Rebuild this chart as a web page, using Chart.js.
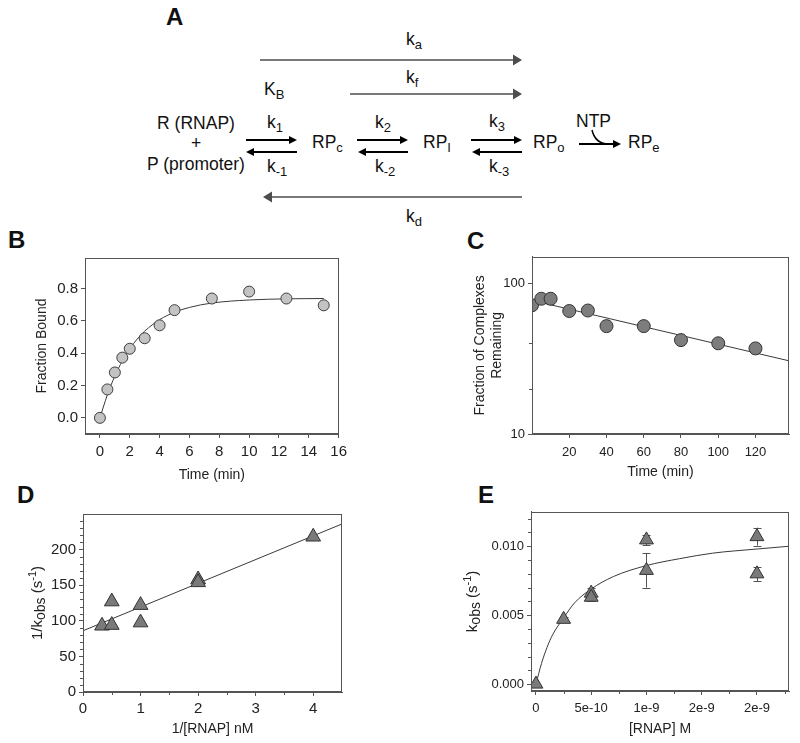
<!DOCTYPE html>
<html>
<head>
<meta charset="utf-8">
<script src="https://cdn.jsdelivr.net/npm/chart.js"></script>
<style>
  html, body { margin: 0; padding: 0; background: #fff; }
  body { width: 800px; height: 743px; position: relative; overflow: hidden;
         font-family: 'Liberation Sans', Arial, sans-serif; color: #111; }
  canvas { position: absolute; }
  .t { position: absolute; font-size: 17.5px; line-height: 1; white-space: nowrap; }
  .c { transform: translateX(-50%); }
  .s { font-size: 13px; position: relative; top: 4px; }
  .lbl { position: absolute; font-size: 24px; font-weight: bold; line-height: 1; }
  svg { position: absolute; left: 0; top: 0; }
</style>
</head>
<body>

<!-- panel A: reaction scheme -->
<svg width="800" height="230">
  <g stroke="#4d4d4d" stroke-width="1.6" fill="#4d4d4d">
    <line x1="260" y1="60" x2="515" y2="60"/><polygon points="522,60 513,54.5 513,65.5" stroke="none"/>
    <line x1="350" y1="94" x2="515" y2="94"/><polygon points="522,94 513,88.5 513,99.5" stroke="none"/>
    <line x1="522" y1="197" x2="270" y2="197"/><polygon points="263,197 272,191.5 272,202.5" stroke="none"/>
  </g>
  <g stroke="#000" stroke-width="2" fill="#000">
    <line x1="246" y1="140" x2="291" y2="140"/><polygon points="297,140 289,136 289,144" stroke="none"/>
    <line x1="297" y1="152" x2="252" y2="152"/><polygon points="246,152 254,148 254,156" stroke="none"/>
    <line x1="357" y1="140" x2="402" y2="140"/><polygon points="408,140 400,136 400,144" stroke="none"/>
    <line x1="408" y1="152" x2="364" y2="152"/><polygon points="358,152 366,148 366,156" stroke="none"/>
    <line x1="471" y1="140" x2="516" y2="140"/><polygon points="522,140 514,136 514,144" stroke="none"/>
    <line x1="522" y1="152" x2="478" y2="152"/><polygon points="472,152 480,148 480,156" stroke="none"/>
    <line x1="579" y1="144" x2="615" y2="144"/><polygon points="621,144 613,140 613,148" stroke="none"/>
    <path d="M592,130 Q595,143 607,144" fill="none" stroke-width="1.5"/>
  </g>
</svg>

<div class="lbl" style="left:166px; top:5px;">A</div>
<div class="t" style="left:406px; top:31px;">k<span class="s">a</span></div>
<div class="t" style="left:406px; top:69px;">k<span class="s">f</span></div>
<div class="t" style="left:264px; top:81px;">K<span class="s">B</span></div>
<div class="t c" style="left:196px; top:115px;">R (RNAP)</div>
<div class="t c" style="left:196px; top:135px;">+</div>
<div class="t c" style="left:196px; top:156px;">P (promoter)</div>
<div class="t" style="left:267px; top:114px;">k<span class="s">1</span></div>
<div class="t" style="left:267px; top:158px;">k<span class="s">-1</span></div>
<div class="t" style="left:312px; top:134px;">RP<span class="s">c</span></div>
<div class="t" style="left:375px; top:114px;">k<span class="s">2</span></div>
<div class="t" style="left:375px; top:158px;">k<span class="s">-2</span></div>
<div class="t" style="left:423px; top:134px;">RP<span class="s">I</span></div>
<div class="t" style="left:489px; top:113px;">k<span class="s">3</span></div>
<div class="t" style="left:489px; top:158px;">k<span class="s">-3</span></div>
<div class="t" style="left:533px; top:134px;">RP<span class="s">o</span></div>
<div class="t" style="left:576px; top:113px;">NTP</div>
<div class="t" style="left:628px; top:134px;">RP<span class="s">e</span></div>
<div class="t" style="left:406px; top:208px;">k<span class="s">d</span></div>

<div class="lbl" style="left:8px; top:228px;">B</div>
<div class="lbl" style="left:467px; top:229px;">C</div>
<div class="lbl" style="left:17px; top:483px;">D</div>
<div class="lbl" style="left:478px; top:483px;">E</div>

<canvas id="chartB"></canvas>
<canvas id="chartC"></canvas>
<canvas id="chartD"></canvas>
<canvas id="chartE"></canvas>

<script>
// ---- B: association time course
const bTime = [0, 0.5, 1, 1.5, 2, 3, 4, 5, 7.5, 10, 12.5, 15];
const bFraction = [0.0, 0.176, 0.281, 0.373, 0.428, 0.493, 0.573, 0.667, 0.739, 0.782, 0.739, 0.697];
const bFitTime = [0, 0.5, 1, 1.5, 2, 2.5, 3, 4, 5, 6, 7.5, 10, 12.5, 15];
const bFitFraction = [0, 0.143, 0.259, 0.352, 0.428, 0.488, 0.537, 0.608, 0.654, 0.684, 0.711, 0.730, 0.737, 0.739];
const bTicksX = [0, 2, 4, 6, 8, 10, 12, 14, 16];
const bTicksY = [0, 0.2, 0.4, 0.6, 0.8];
const bLabelsY = ["0.0", "0.2", "0.4", "0.6", "0.8"];

// ---- C: dissociation (log scale)
const cTime = [0, 5, 10, 20, 30, 40, 60, 80, 100, 120];
const cRemaining = [71.5, 79, 79, 65.5, 66, 52, 52, 42, 40, 37];
const cFitTime = [0, 138];
const cFitRemaining = [77, 30.6];
const cTicksX = [20, 40, 60, 80, 100, 120];
const cTicksY = [10, 100];
const cMinorY = [20, 40];

// ---- D: double reciprocal
const dInvRnap = [0.33, 0.5, 0.5, 1, 1, 2, 2, 4];
const dInvKobs = [93, 94, 127, 122, 97.5, 158, 154, 218];
const dFitX = [0, 4.5];
const dFitY = [86, 236];
const dTicksX = [0, 1, 2, 3, 4];
const dTicksY = [0, 50, 100, 150, 200];

// ---- E: kobs vs [RNAP]
const eConc = [0, 2.5e-10, 5e-10, 5e-10, 1e-9, 1e-9, 2e-9, 2e-9];
const eKobs = [0.0, 0.0047, 0.0066, 0.0063, 0.01046, 0.00825, 0.0107, 0.0080];
const eErr = [0, 0.0002, 0.0004, 0.0003, 0.00038, 0.00125, 0.00065, 0.00053];
const eFitConc = [0, 0.5e-10, 1e-10, 1.5e-10, 2.5e-10, 3.5e-10, 5e-10, 7e-10, 1e-9, 1.3e-9, 1.6e-9, 2e-9, 2.29e-9];
const eFitKobs = [0, 0.0015, 0.00266, 0.00357, 0.0048, 0.0059, 0.0069, 0.0078, 0.0086, 0.0091, 0.0095, 0.0098, 0.0100];
const eTicksX = [0, 5e-10, 1e-9, 1.5e-9, 2e-9];
const eLabelsX = ["0", "5e-10", "1e-9", "2e-9", "2e-9"];
const eTicksY = [0, 0.005, 0.01];
const eLabelsY = ["0.000", "0.005", "0.010"];

const FONT = "'Liberation Sans', Arial, sans-serif";
const AXIS = "#555";
const INK = "#222";
Chart.defaults.font.family = FONT;

const pts = (xs, ys) => xs.map((x, i) => ({ x: x, y: ys[i] }));

// box round the plot area
const frame = {
  id: "frame",
  afterDraw(chart) {
    const { ctx, chartArea: a } = chart;
    ctx.save();
    ctx.strokeStyle = AXIS;
    ctx.lineWidth = 1;
    ctx.strokeRect(Math.round(a.left) + 0.5, Math.round(a.top) + 0.5,
      Math.round(a.right - a.left) - 1, Math.round(a.bottom - a.top) - 1);
    ctx.restore();
  }
};

// small outside ticks between the labelled ones
const minorTicks = {
  id: "minorTicks",
  afterDraw(chart, args, o) {
    const { ctx, chartArea: a, scales } = chart;
    ctx.save();
    ctx.strokeStyle = AXIS;
    ctx.lineWidth = 1;
    ctx.beginPath();
    (o.x || []).forEach(v => {
      const px = Math.round(scales.x.getPixelForValue(v)) + 0.5;
      ctx.moveTo(px, a.bottom); ctx.lineTo(px, a.bottom + (o.len || 3));
    });
    (o.y || []).forEach(v => {
      const py = Math.round(scales.y.getPixelForValue(v)) + 0.5;
      ctx.moveTo(a.left, py); ctx.lineTo(a.left - (o.len || 3), py);
    });
    ctx.stroke();
    ctx.restore();
  }
};

// rotated y title with sub/superscripts
const richYTitle = {
  id: "richYTitle",
  afterDraw(chart, args, o) {
    if (!o.parts) return;
    const { ctx, chartArea: a } = chart;
    const size = p => p.sub ? 14 : p.sup ? 11 : 15;
    ctx.save();
    ctx.translate(o.x, (a.top + a.bottom) / 2);
    ctx.rotate(-Math.PI / 2);
    ctx.fillStyle = INK;
    ctx.textBaseline = "alphabetic";
    let w = 0;
    o.parts.forEach(p => { ctx.font = size(p) + "px " + FONT; w += ctx.measureText(p.t).width; });
    let x = -w / 2;
    o.parts.forEach(p => {
      ctx.font = size(p) + "px " + FONT;
      const dy = p.sub ? 3 : p.sup ? -6 : 0;
      ctx.fillText(p.t, x, 5 + dy);
      x += ctx.measureText(p.t).width;
    });
    ctx.restore();
  }
};

// vertical error bars drawn behind the markers
const errorBars = {
  id: "errorBars",
  beforeDatasetsDraw(chart, args, o) {
    if (!o.err) return;
    const { ctx, scales } = chart;
    ctx.save();
    ctx.strokeStyle = "#555";
    ctx.lineWidth = 1;
    ctx.beginPath();
    o.xs.forEach((xv, i) => {
      if (!o.err[i]) return;
      const px = Math.round(scales.x.getPixelForValue(xv)) + 0.5;
      const y1 = scales.y.getPixelForValue(o.ys[i] - o.err[i]);
      const y2 = scales.y.getPixelForValue(o.ys[i] + o.err[i]);
      ctx.moveTo(px, y1); ctx.lineTo(px, y2);
      ctx.moveTo(px - 4, Math.round(y1) + 0.5); ctx.lineTo(px + 4, Math.round(y1) + 0.5);
      ctx.moveTo(px - 4, Math.round(y2) + 0.5); ctx.lineTo(px + 4, Math.round(y2) + 0.5);
    });
    ctx.stroke();
    ctx.restore();
  }
};

function axis(opts) {
  return {
    type: opts.type || "linear",
    min: opts.min, max: opts.max,
    afterBuildTicks: s => { s.ticks = opts.ticks.map(v => ({ value: v })); },
    ticks: {
      autoSkip: false, maxRotation: 0, color: INK, padding: opts.pad,
      font: { size: opts.size },
      callback: (v, i) => opts.labels ? opts.labels[i] : String(v)
    },
    grid: { drawOnChartArea: false, drawTicks: true, tickLength: 4, color: AXIS },
    border: { color: AXIS },
    title: opts.title ? { display: true, text: opts.title, color: INK, padding: 0,
      font: { size: 14, lineHeight: 1.2 } } : { display: false },
    afterFit: opts.fit
  };
}

// area = wanted plot box on the page; left/bottom = outer edges of the axis titles
function panel(id, area, left, bottom, cfg) {
  const cv = document.getElementById(id);
  const top = area.t - 8, right = area.r + 10;
  cv.width = right - left;
  cv.height = bottom - top;
  cv.style.left = left + "px";
  cv.style.top = top + "px";
  const yw = area.l - left, xh = bottom - area.b;
  cfg.options.scales.x.afterFit = s => { s.height = xh; };
  cfg.options.scales.y.afterFit = s => { s.width = yw; };
  cfg.options.layout = { padding: { top: 8, right: 10, left: 0, bottom: 0 } };
  cfg.options.responsive = false;
  cfg.options.animation = false;
  cfg.options.events = [];
  cfg.options.plugins.legend = { display: false };
  cfg.options.plugins.tooltip = { enabled: false };
  cfg.plugins = [frame, minorTicks, richYTitle, errorBars];
  return new Chart(cv, cfg);
}

const lineSet = (xs, ys) => ({
  data: pts(xs, ys), showLine: true, pointRadius: 0, borderColor: "#3a3a3a",
  borderWidth: 1, cubicInterpolationMode: "monotone", fill: false
});

panel("chartB", { l: 85, t: 254, r: 342, b: 434 }, 34, 484, {
  type: "scatter",
  data: { datasets: [
    { data: pts(bTime, bFraction), pointStyle: "circle", pointRadius: 5.5,
      backgroundColor: "#c3c3c3", borderColor: "#3c3c3c", borderWidth: 1 },
    lineSet(bFitTime, bFitFraction)
  ] },
  options: {
    plugins: {},
    scales: {
      x: axis({ min: -1, max: 16, ticks: bTicksX, size: 15, pad: 5, title: "Time (min)" }),
      y: axis({ min: -0.1, max: 0.99, ticks: bTicksY, labels: bLabelsY, size: 15, pad: 3, title: "Fraction Bound" })
    }
  }
});

panel("chartC", { l: 532, t: 254, r: 789, b: 434 }, 472, 481, {
  type: "scatter",
  data: { datasets: [
    { data: pts(cTime, cRemaining), pointStyle: "circle", pointRadius: 6.5,
      backgroundColor: "#7d7d7d", borderColor: "#333", borderWidth: 1 },
    lineSet(cFitTime, cFitRemaining)
  ] },
  options: {
    plugins: { minorTicks: { y: cMinorY } },
    scales: {
      x: axis({ min: 0, max: 138, ticks: cTicksX, size: 13, pad: 7, title: "Time (min)" }),
      y: axis({ type: "logarithmic", min: 10, max: 150, ticks: cTicksY, size: 13, pad: 3,
        title: ["Fraction of Complexes", "Remaining"] })
    }
  }
});

const dMinorY = [], dMinorX = [0.5, 1.5, 2.5, 3.5];
for (let v = 10; v <= 240; v += 10) if (v % 50) dMinorY.push(v);

panel("chartD", { l: 83, t: 510, r: 342, b: 692 }, 20, 738, {
  type: "scatter",
  data: { datasets: [
    { data: pts(dInvRnap, dInvKobs), pointStyle: "triangle", pointRadius: 8.5,
      backgroundColor: "#7a7a7a", borderColor: "#333", borderWidth: 1 },
    lineSet(dFitX, dFitY)
  ] },
  options: {
    plugins: {
      minorTicks: { x: dMinorX, y: dMinorY, len: 3 },
      richYTitle: { x: 17, parts: [{ t: "1/k" }, { t: "obs", sub: true }, { t: " (s" }, { t: "-1", sup: true }, { t: ")" }] }
    },
    scales: {
      x: axis({ min: 0, max: 4.5, ticks: dTicksX, size: 15, pad: 4, title: "1/[RNAP] nM" }),
      y: axis({ min: 0, max: 250, ticks: dTicksY, size: 15, pad: 3 })
    }
  }
});

const eMinorY = [0.001, 0.002, 0.003, 0.004, 0.006, 0.007, 0.008, 0.009, 0.011, 0.012];
const eMinorX = [2.5e-10, 7.5e-10, 1.25e-9, 1.75e-9, 2.25e-9];

panel("chartE", { l: 531, t: 509, r: 789, b: 691 }, 455, 738, {
  type: "scatter",
  data: { datasets: [
    { data: pts(eConc, eKobs), pointStyle: "triangle", pointRadius: 8,
      backgroundColor: "#7a7a7a", borderColor: "#333", borderWidth: 1 },
    lineSet(eFitConc, eFitKobs)
  ] },
  options: {
    plugins: {
      minorTicks: { x: eMinorX, y: eMinorY, len: 3 },
      errorBars: { xs: eConc, ys: eKobs, err: eErr },
      richYTitle: { x: 17, parts: [{ t: "k" }, { t: "obs", sub: true }, { t: " (s" }, { t: "-1", sup: true }, { t: ")" }] }
    },
    scales: {
      x: axis({ min: -4.5e-11, max: 2.29e-9, ticks: eTicksX, labels: eLabelsX, size: 13, pad: 6, title: "[RNAP] M" }),
      y: axis({ min: -0.0005, max: 0.0125, ticks: eTicksY, labels: eLabelsY, size: 13, pad: 3 })
    }
  }
});
</script>
</body>
</html>
